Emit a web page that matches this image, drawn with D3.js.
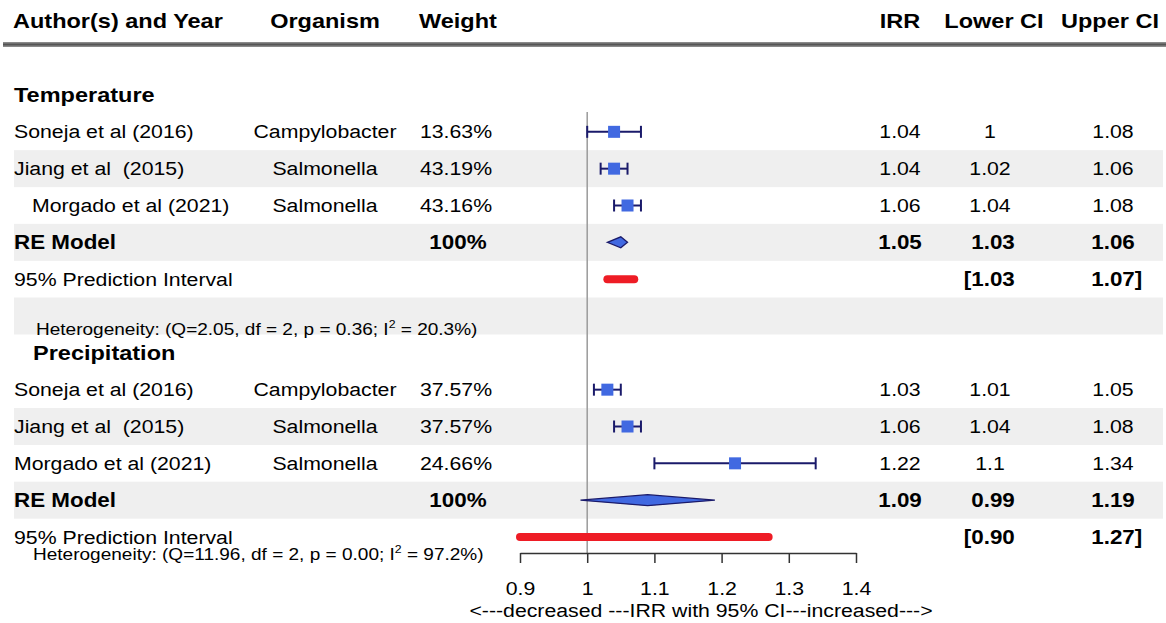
<!DOCTYPE html>
<html>
<head>
<meta charset="utf-8">
<script src="https://cdn.jsdelivr.net/npm/d3@7"></script>
<style>
  html, body { margin: 0; padding: 0; background: #fff; }
  svg text { font-family: "Liberation Sans", Arial, sans-serif; fill: #000; white-space: pre; }
</style>
</head>
<body>
<svg id="chart" width="1166" height="623"></svg>
<script>
// ---------------- data ----------------
const headers = ["Author(s) and Year", "Organism", "Weight", "IRR", "Lower CI", "Upper CI"];
const groups = ["Temperature", "Precipitation"];
const authors = ["Soneja et al (2016)", "Jiang et al  (2015)", "Morgado et al (2021)"];
const organisms = ["Campylobacter", "Salmonella", "Salmonella"];

const tempWeights = ["13.63%", "43.19%", "43.16%"];
const tempIRR = [1.04, 1.04, 1.06];
const tempLower = [1.00, 1.02, 1.04];
const tempUpper = [1.08, 1.06, 1.08];
const tempRE = [1.05, 1.03, 1.06];      // estimate, lower, upper
const tempPI = [1.03, 1.07];
const tempHet = ["Heterogeneity: (Q=2.05, df = 2, p = 0.36; I", "2", " = 20.3%)"];

const precWeights = ["37.57%", "37.57%", "24.66%"];
const precIRR = [1.03, 1.06, 1.22];
const precLower = [1.01, 1.04, 1.10];
const precUpper = [1.05, 1.08, 1.34];
const precRE = [1.09, 0.99, 1.19];
const precPI = [0.90, 1.27];
const precHet = ["Heterogeneity: (Q=11.96, df = 2, p = 0.00; I", "2", " = 97.2%)"];

const reLabel = "RE Model";
const reWeight = "100%";
const piLabel = "95% Prediction Interval";
const ticks = [0.9, 1, 1.1, 1.2, 1.3, 1.4];
const axisTitle = "<---decreased ---IRR with 95% CI---increased--->";

// ---------------- layout ----------------
const svg = d3.select("#chart");
const SX = 1.12;              // horizontal stretch of the original image text
const x = d3.scaleLinear().domain([0.9, 1.4]).range([520, 856]);
const row = d3.scaleLinear().domain([0, 12]).range([95, 537]);
const col = { author: 14, organism: 325, weight: 456, irr: 900, lower: 990, upper: 1113 };
const navy = "#1a1a6a", blue = "#4169e1", red = "#ee1c25";

function txt(xp, yp, s, o = {}) {
  const t = svg.append("text")
    .attr("transform", `translate(${xp},${yp}) scale(${SX},1)`)
    .attr("dy", "0.35em")
    .attr("text-anchor", o.anchor || "start")
    .style("font-size", (o.size || 19) + "px")
    .style("font-weight", o.bold ? "bold" : "normal")
    .text(s);
  return t;
}

// gray bands
[2, 4, 6, 9, 11].forEach(k => {
  svg.append("rect").attr("x", 14).attr("width", 1149)
    .attr("y", row(k) - 18.5).attr("height", 37).attr("fill", "#efefef");
});

// header line
svg.append("line").attr("x1", 3).attr("x2", 1166).attr("y1", 44.5).attr("y2", 44.5)
  .attr("stroke", "#8a8a8a").attr("stroke-width", 5);
svg.append("line").attr("x1", 3).attr("x2", 1166).attr("y1", 44.5).attr("y2", 44.5)
  .attr("stroke", "#555").attr("stroke-width", 2);

// headers
const hy = 21;
txt(13, hy, headers[0], { bold: true, size: 21 });
txt(col.organism, hy, headers[1], { bold: true, size: 21, anchor: "middle" });
txt(419, hy, headers[2], { bold: true, size: 21 });
txt(col.irr, hy, headers[3], { bold: true, size: 21, anchor: "middle" });
txt(994, hy, headers[4], { bold: true, size: 21, anchor: "middle" });
txt(1110, hy, headers[5], { bold: true, size: 21, anchor: "middle" });

// reference line at IRR = 1
svg.append("line").attr("x1", x(1)).attr("x2", x(1)).attr("y1", 112).attr("y2", 553)
  .attr("stroke", "#9a9a9a").attr("stroke-width", 1.5);

function fmt(v) { return String(+v.toFixed(2)); }

function drawGroup(start, gi, weights, irr, lo, up, re, pi, het, indents, hetX, hetY, labelX) {
  txt(labelX, row(start), groups[gi], { bold: true, size: 21 });
  authors.forEach((a, i) => {
    const yy = row(start + 1 + i);
    txt(col.author + indents[i], yy, a);
    txt(col.organism, yy, organisms[i], { anchor: "middle" });
    txt(col.weight, yy, weights[i], { anchor: "middle" });
    txt(col.irr, yy, fmt(irr[i]), { anchor: "middle" });
    txt(col.lower, yy, fmt(lo[i]), { anchor: "middle" });
    txt(col.upper, yy, fmt(up[i]), { anchor: "middle" });
    // CI line with caps
    svg.append("line").attr("x1", x(lo[i])).attr("x2", x(up[i])).attr("y1", yy).attr("y2", yy)
      .attr("stroke", navy).attr("stroke-width", 2);
    [lo[i], up[i]].forEach(v => svg.append("line").attr("x1", x(v)).attr("x2", x(v))
      .attr("y1", yy - 6).attr("y2", yy + 6).attr("stroke", navy).attr("stroke-width", 2));
    svg.append("rect").attr("x", x(irr[i]) - 6).attr("y", yy - 6).attr("width", 12).attr("height", 12)
      .attr("fill", blue);
  });
  // RE model
  const ry = row(start + 4);
  txt(col.author, ry, reLabel, { bold: true, size: 20 });
  txt(458, ry, reWeight, { bold: true, size: 20, anchor: "middle" });
  txt(col.irr, ry, fmt(re[0]), { bold: true, size: 20, anchor: "middle" });
  txt(col.lower + 3, ry, fmt(re[1]), { bold: true, size: 20, anchor: "middle" });
  txt(col.upper, ry, fmt(re[2]), { bold: true, size: 20, anchor: "middle" });
  svg.append("polygon")
    .attr("points", [[x(re[1]), ry], [x(re[0]), ry - 5.5], [x(re[2]), ry], [x(re[0]), ry + 5.5]].join(" "))
    .attr("fill", blue).attr("stroke", navy).attr("stroke-width", 1.3);
  // prediction interval
  const py = row(start + 5);
  txt(col.author, py, piLabel);
  const l = txt(col.lower + 3, py, pi[0].toFixed(2), { bold: true, size: 20, anchor: "middle" });
  const lw = l.node().getComputedTextLength() * SX;
  txt(col.lower + 3 - lw / 2, py, "[", { bold: true, size: 20, anchor: "end" });
  const u = txt(col.upper, py, pi[1].toFixed(2), { bold: true, size: 20, anchor: "middle" });
  const uw = u.node().getComputedTextLength() * SX;
  txt(col.upper + uw / 2, py, "]", { bold: true, size: 20 });
  svg.append("line").attr("x1", x(pi[0])).attr("x2", x(pi[1])).attr("y1", py).attr("y2", py)
    .attr("stroke", red).attr("stroke-width", 8).attr("stroke-linecap", "round");
  // heterogeneity
  const h = txt(hetX, hetY, "", { size: 17 });
  h.append("tspan").text(het[0]);
  h.append("tspan").attr("dy", -7).style("font-size", "11px").text(het[1]);
  h.append("tspan").attr("dy", 7).text(het[2]);
}

drawGroup(0, 0, tempWeights, tempIRR, tempLower, tempUpper, tempRE, tempPI, tempHet, [0, 0, 18], 36, 329, 14);
drawGroup(7, 1, precWeights, precIRR, precLower, precUpper, precRE, precPI, precHet, [0, 0, 0], 33, 554, 33);

// axis
const ax = svg.append("g").attr("transform", "translate(0,553)")
  .call(d3.axisBottom(x).tickValues(ticks).tickSize(10).tickSizeOuter(0).tickFormat(d => String(d)));
ax.select(".domain").attr("stroke", "#333").attr("stroke-width", 1.5);
ax.selectAll(".tick line").attr("stroke", "#333").attr("stroke-width", 1.5);
ax.selectAll(".tick text")
  .attr("y", 35).attr("dy", "0.35em")
  .attr("transform", `scale(${SX},1)`)
  .style("font-size", "19px").style("font-family", "Liberation Sans, Arial, sans-serif").attr("fill", "#000");
txt(701, 610, axisTitle, { anchor: "middle" });
</script>
</body>
</html>
